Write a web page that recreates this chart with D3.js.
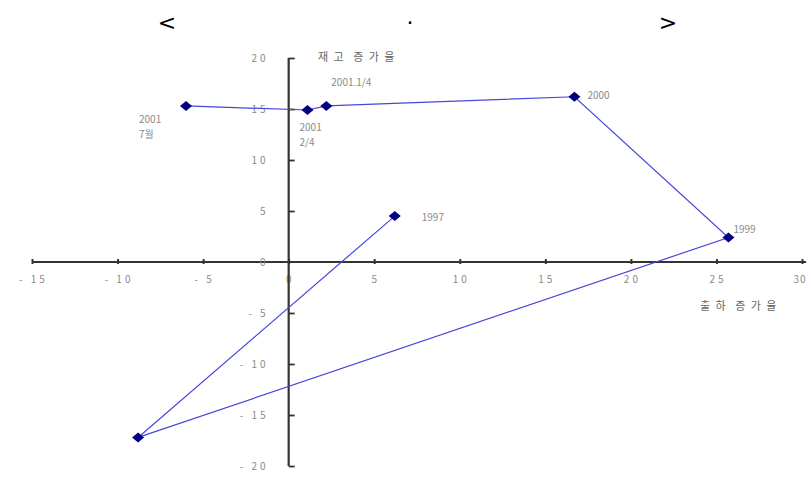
<!DOCTYPE html>
<html><head><meta charset="utf-8">
<script src="https://cdn.jsdelivr.net/npm/d3@7"></script>
<style>
html,body{margin:0;padding:0;background:#fff;}
svg{display:block;}
text{white-space:pre;}
</style>
</head><body>
<svg id="chart" width="806" height="478"></svg>
<script>
// ---- data ----
const years = ["1997","1998","1999","2000","2001 1/4","2001 2/4","2001 7월"];
const shipmentGrowth = [6.2, -8.8, 25.7, 16.7, 2.2, 1.1, -6.0];
const inventoryGrowth = [4.5, -17.2, 2.4, 16.2, 15.3, 14.9, 15.3];
const pointLabels = [["1997"], [], ["1999"], ["2000"], ["2001.1/4"], ["2001", "2/4"], ["2001", "7월"]];
const xTicks = [-15,-10,-5,0,5,10,15,20,25,30];
const yTicks = [20,15,10,5,0,-5,-10,-15,-20];
const titleParts = ["<", "·", ">"];
const yAxisTitle = "재 고  증 가 율";
const xAxisTitle = "출 하  증 가 율";

// ---- layout ----
const svg = d3.select("#chart");
const x = d3.scaleLinear().domain([-15, 30]).range([32, 802]);
const y = d3.scaleLinear().domain([-20, 20]).range([466, 58]);
const labelOffsets = [[27,1],[0,0],[5,-8],[13,-1],[5,-23],[-8,17],[-47,14]];
const textFont = "'Noto Sans CJK KR', 'DejaVu Sans', sans-serif";
const grey = "#8a8a8a";

// title
const titleX = [167, 410, 668];
svg.selectAll("text.title").data(titleParts).join("text")
  .attr("class","title")
  .attr("x",(d,i)=>titleX[i]).attr("y",30)
  .attr("text-anchor","middle")
  .attr("font-family","'DejaVu Sans', sans-serif")
  .attr("font-size",22).attr("fill","#000")
  .text(d=>d);

// x axis
const xAxis = d3.axisBottom(x).tickValues(xTicks).tickSize(0).tickPadding(14)
  .tickFormat(d => String(d).replace("-", "- "));
const gx = svg.append("g").attr("transform",`translate(0,${y(0)})`).call(xAxis);
gx.select(".domain").attr("stroke","#333").attr("stroke-width",2.2)
  .attr("d",`M${x(-15)},0H806`);
gx.selectAll(".tick text").attr("font-family",textFont).attr("font-size",10)
  .attr("fill",grey).attr("letter-spacing",3).attr("dx",1);
gx.selectAll(".tick").filter(d=>d===30).select("text")
  .attr("text-anchor","end").attr("letter-spacing",1).attr("dx",4);
gx.selectAll(".tick").append("line").attr("y1",-3).attr("y2",2)
  .attr("stroke","#333").attr("stroke-width",2);
gx.selectAll(".tick").filter(d=>d===0).select("line").remove();

// y axis
const yAxis = d3.axisRight(y).tickValues(yTicks).tickSize(6).tickPadding(0)
  .tickFormat(()=>"");
const gy = svg.append("g").attr("transform",`translate(${x(0)},0)`).call(yAxis);
gy.select(".domain").attr("stroke","#333").attr("stroke-width",2.2)
  .attr("d",`M0,${y(20)}V${y(-20)}`);
gy.selectAll(".tick line").attr("stroke","#333").attr("stroke-width",1.8);
gy.selectAll(".tick").filter(d=>d===0).select("line").remove();
gy.selectAll(".tick").append("text")
  .attr("x",-20).attr("dy","0.35em")
  .attr("text-anchor","end")
  .attr("font-family",textFont).attr("font-size",10)
  .attr("fill",grey).attr("letter-spacing",3)
  .text(d => String(d).replace("-", "- "));
gy.selectAll(".tick").filter(d=>d===0).select("text").attr("x",-24).attr("dy","0.1em");

// axis titles
svg.append("text").attr("x",318).attr("y",61)
  .attr("font-family",textFont).attr("font-size",11).attr("fill","#666")
  .attr("letter-spacing",1.5).text(yAxisTitle);
svg.append("text").attr("x",700).attr("y",310)
  .attr("font-family",textFont).attr("font-size",11).attr("fill","#666")
  .attr("letter-spacing",1.5).text(xAxisTitle);

// line
const pts = years.map((d,i)=>({name:d, sx:shipmentGrowth[i], iy:inventoryGrowth[i], lab:pointLabels[i], off:labelOffsets[i]}));
const line = d3.line().x(d=>x(d.sx)).y(d=>y(d.iy));
svg.append("path").datum(pts).attr("d",line)
  .attr("fill","none").attr("stroke","#4646dc").attr("stroke-width",1.2);

// markers (flattened diamonds)
const sq = d3.symbol().type(d3.symbolSquare).size(50);
svg.selectAll("path.pt").data(pts).join("path").attr("class","pt")
  .attr("transform",d=>`translate(${x(d.sx)},${y(d.iy)}) scale(1.2,1) rotate(45)`)
  .attr("d",sq).attr("fill","#000080");

// point labels
const lg = svg.selectAll("text.plab").data(pts).join("text").attr("class","plab")
  .attr("x",d=>x(d.sx)+d.off[0]).attr("y",d=>y(d.iy)+d.off[1])
  .attr("font-family",textFont).attr("font-size",10).attr("fill",grey);
lg.selectAll("tspan").data(d=>d.lab.map(t=>({t, x:x(d.sx)+d.off[0]}))).join("tspan")
  .attr("x",d=>d.x).attr("dy",(d,i)=>i===0?"0.35em":"1.5em").text(d=>d.t);
</script>
</body></html>
